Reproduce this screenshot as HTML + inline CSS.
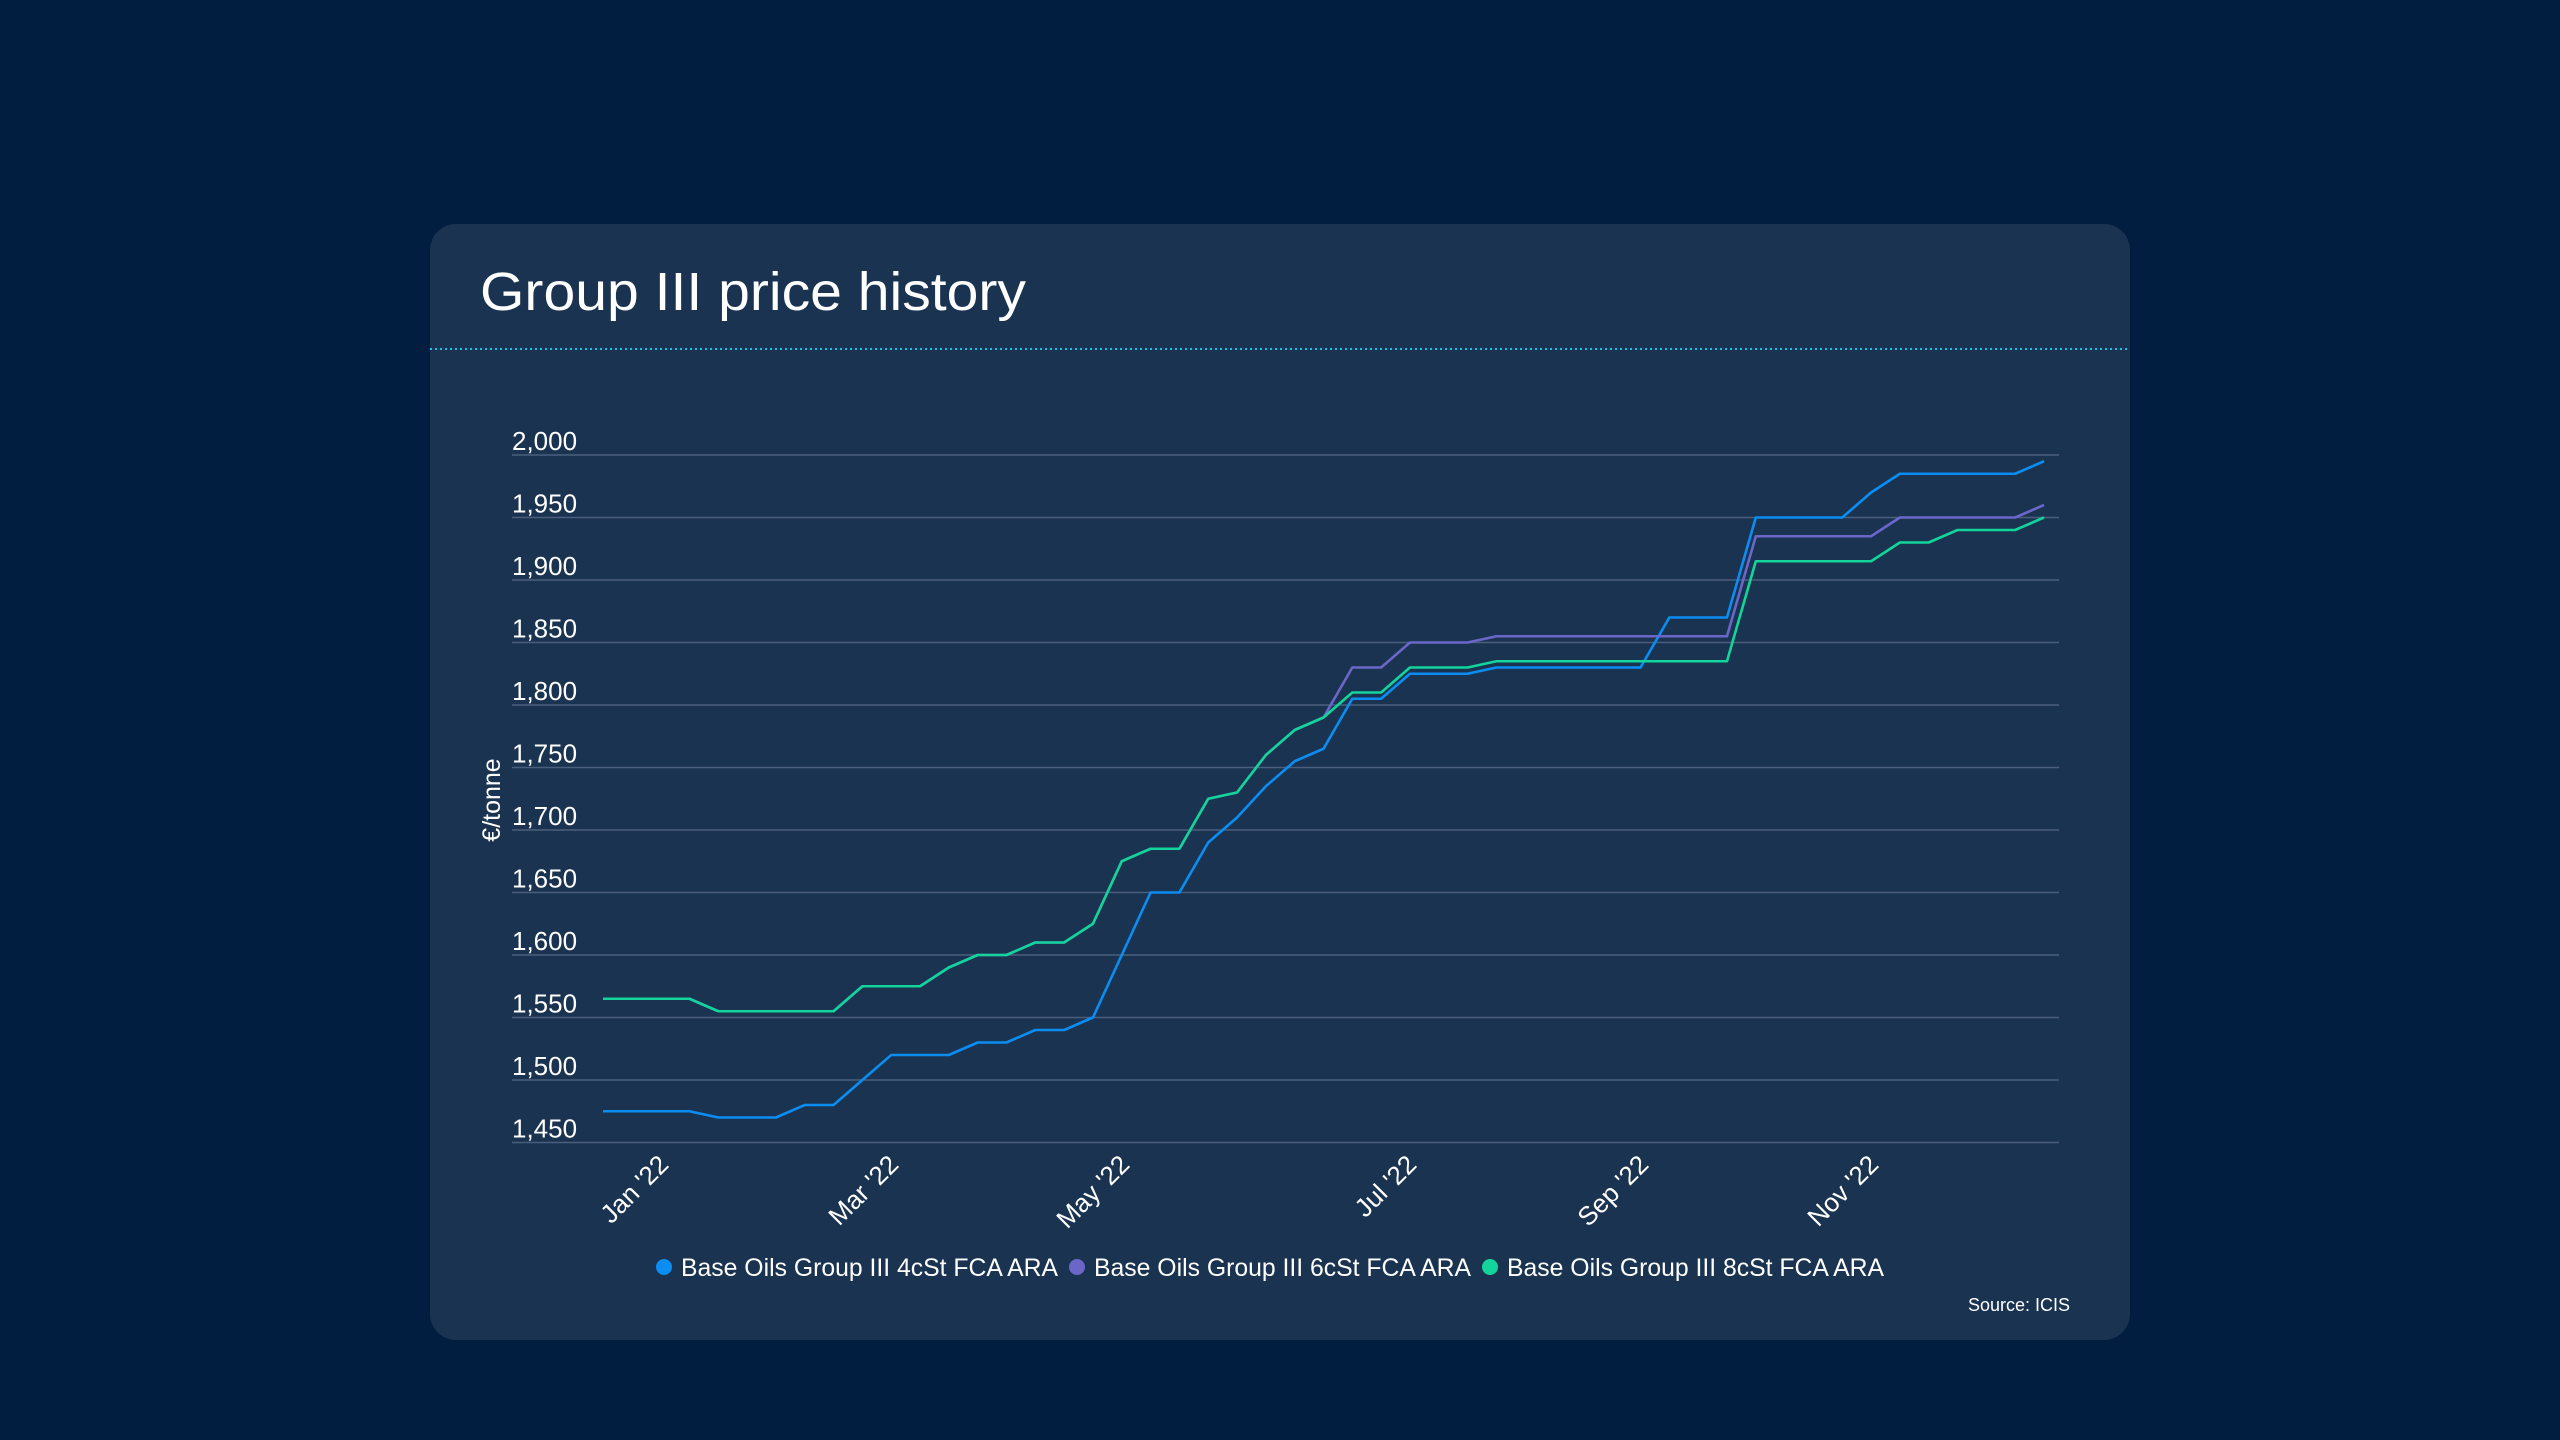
<!DOCTYPE html>
<html><head><meta charset="utf-8"><style>
html,body{margin:0;padding:0;background:#011e41;}
svg{display:block}
text{font-family:"Liberation Sans",sans-serif;fill:#ffffff}
</style></head><body>
<svg width="2560" height="1440" viewBox="0 0 2560 1440" xmlns="http://www.w3.org/2000/svg">
<rect width="2560" height="1440" fill="#011e41"/>
<rect x="430" y="224" width="1700" height="1116" rx="26" fill="#1a3350"/>
<text x="480" y="310" font-size="54" textLength="546" lengthAdjust="spacingAndGlyphs">Group III price history</text>
<line x1="430" y1="349" x2="2130" y2="349" stroke="#12c6ea" stroke-width="2" stroke-dasharray="2,3"/>
<g stroke="#4a5f7c" stroke-width="1.5">
<line x1="512" x2="2059" y1="455" y2="455"/><line x1="512" x2="2059" y1="517.5" y2="517.5"/>
<line x1="512" x2="2059" y1="580" y2="580"/><line x1="512" x2="2059" y1="642.5" y2="642.5"/>
<line x1="512" x2="2059" y1="705" y2="705"/><line x1="512" x2="2059" y1="767.5" y2="767.5"/>
<line x1="512" x2="2059" y1="830" y2="830"/><line x1="512" x2="2059" y1="892.5" y2="892.5"/>
<line x1="512" x2="2059" y1="955" y2="955"/><line x1="512" x2="2059" y1="1017.5" y2="1017.5"/>
<line x1="512" x2="2059" y1="1080" y2="1080"/><line x1="512" x2="2059" y1="1142.5" y2="1142.5"/>
</g>
<g font-size="26">
<text x="512" y="450">2,000</text><text x="512" y="512.5">1,950</text>
<text x="512" y="575">1,900</text><text x="512" y="637.5">1,850</text>
<text x="512" y="700">1,800</text><text x="512" y="762.5">1,750</text>
<text x="512" y="825">1,700</text><text x="512" y="887.5">1,650</text>
<text x="512" y="950">1,600</text><text x="512" y="1012.5">1,550</text>
<text x="512" y="1075">1,500</text><text x="512" y="1137.5">1,450</text>
</g>
<text transform="translate(500,800) rotate(-90)" font-size="25" text-anchor="middle">€/tonne</text>
<g transform="matrix(28.82 0 0 -1.25 603 2955)" fill="none" stroke-width="2.6" stroke-linejoin="round">
<polyline vector-effect="non-scaling-stroke" stroke="#0b8df2" points="0,1475 1,1475 2,1475 3,1475 4,1470 5,1470 6,1470 7,1480 8,1480 9,1500 10,1520 11,1520 12,1520 13,1530 14,1530 15,1540 16,1540 17,1550 18,1600 19,1650 20,1650 21,1690 22,1710 23,1735 24,1755 25,1765 26,1805 27,1805 28,1825 29,1825 30,1825 31,1830 32,1830 33,1830 34,1830 35,1830 36,1830 37,1870 38,1870 39,1870 40,1950 41,1950 42,1950 43,1950 44,1970 45,1985 46,1985 47,1985 48,1985 49,1985 50,1995"/>
<polyline vector-effect="non-scaling-stroke" stroke="#6b67c9" points="0,1565 1,1565 2,1565 3,1565 4,1555 5,1555 6,1555 7,1555 8,1555 9,1575 10,1575 11,1575 12,1590 13,1600 14,1600 15,1610 16,1610 17,1625 18,1675 19,1685 20,1685 21,1725 22,1730 23,1760 24,1780 25,1790 26,1830 27,1830 28,1850 29,1850 30,1850 31,1855 32,1855 33,1855 34,1855 35,1855 36,1855 37,1855 38,1855 39,1855 40,1935 41,1935 42,1935 43,1935 44,1935 45,1950 46,1950 47,1950 48,1950 49,1950 50,1960"/>
<polyline vector-effect="non-scaling-stroke" stroke="#13d49a" points="0,1565 1,1565 2,1565 3,1565 4,1555 5,1555 6,1555 7,1555 8,1555 9,1575 10,1575 11,1575 12,1590 13,1600 14,1600 15,1610 16,1610 17,1625 18,1675 19,1685 20,1685 21,1725 22,1730 23,1760 24,1780 25,1790 26,1810 27,1810 28,1830 29,1830 30,1830 31,1835 32,1835 33,1835 34,1835 35,1835 36,1835 37,1835 38,1835 39,1835 40,1915 41,1915 42,1915 43,1915 44,1915 45,1930 46,1930 47,1940 48,1940 49,1940 50,1950"/>
</g>
<g font-size="26" text-anchor="end">
<text transform="translate(670,1166) rotate(-45)">Jan '22</text>
<text transform="translate(900,1166) rotate(-45)">Mar '22</text>
<text transform="translate(1131,1166) rotate(-45)">May '22</text>
<text transform="translate(1418,1166) rotate(-45)">Jul '22</text>
<text transform="translate(1650,1166) rotate(-45)">Sep '22</text>
<text transform="translate(1880,1166) rotate(-45)">Nov '22</text>
</g>
<circle cx="664" cy="1267" r="8" fill="#0b8df2"/>
<text x="681" y="1276" font-size="25" textLength="377" lengthAdjust="spacingAndGlyphs">Base Oils Group III 4cSt FCA ARA</text>
<circle cx="1077" cy="1267" r="8" fill="#6b67c9"/>
<text x="1094" y="1276" font-size="25" textLength="377" lengthAdjust="spacingAndGlyphs">Base Oils Group III 6cSt FCA ARA</text>
<circle cx="1490" cy="1267" r="8" fill="#13d49a"/>
<text x="1507" y="1276" font-size="25" textLength="377" lengthAdjust="spacingAndGlyphs">Base Oils Group III 8cSt FCA ARA</text>
<text x="2070" y="1311" font-size="18" text-anchor="end">Source: ICIS</text>
</svg>
</body></html>
